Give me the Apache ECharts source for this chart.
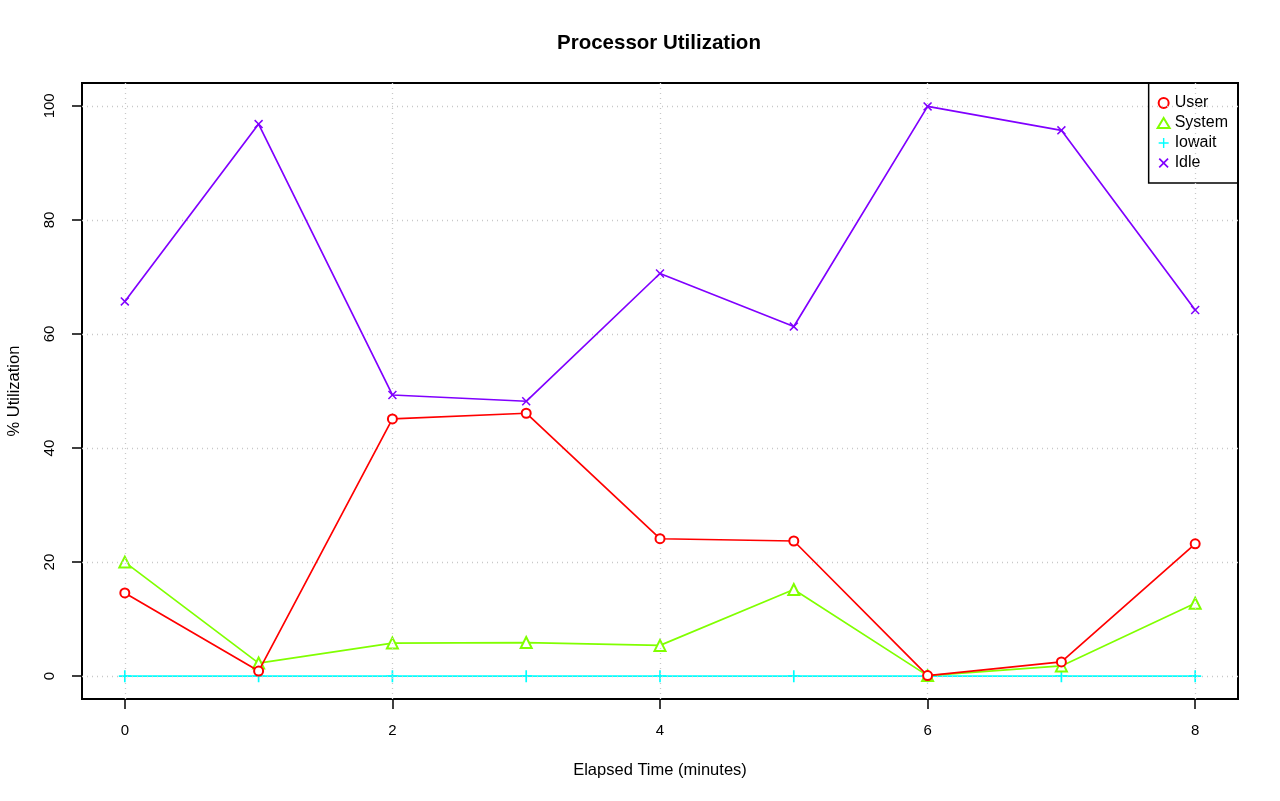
<!DOCTYPE html>
<html>
<head>
<meta charset="utf-8">
<script src="https://cdn.jsdelivr.net/npm/echarts@6/dist/echarts.min.js"></script>
<style>html,body{margin:0;padding:0;background:#fff}#c{width:1280px;height:801px}</style>
</head>
<body>
<div id="c"></div>
<script>
const minutes = [0, 1, 2, 3, 4, 5, 6, 7, 8];
const userPct = [14.6, 0.9, 45.1, 46.1, 24.1, 23.7, 0.1, 2.5, 23.2];
const systemPct = [20.0, 2.3, 5.8, 5.9, 5.4, 15.2, 0.1, 1.8, 12.8];
const iowaitPct = [0, 0, 0, 0, 0, 0, 0, 0, 0];
const idlePct = [65.7, 96.8, 49.3, 48.2, 70.6, 61.3, 99.9, 95.7, 64.2];
const xTicks = [0, 2, 4, 6, 8];
const yTicks = [0, 20, 40, 60, 80, 100];

const FONT = 'Liberation Sans, Arial, Helvetica, sans-serif';
const PLUS = 'path://M4.3,0 L5.7,0 L5.7,4.3 L10,4.3 L10,5.7 L5.7,5.7 L5.7,10 L4.3,10 L4.3,5.7 L0,5.7 L0,4.3 L4.3,4.3 Z';
const CROSS = 'path://M0,1.2 L1.2,0 L5,3.8 L8.8,0 L10,1.2 L6.2,5 L10,8.8 L8.8,10 L5,6.2 L1.2,10 L0,8.8 L3.8,5 Z';

function pairs(vals){ return minutes.map((m,i)=>[m, vals[i]]); }

const gridStyle = {color:'#c8c8c8', type:[1,4], width:1.3};
const chart = echarts.init(document.getElementById('c'), null, {renderer:'canvas'});
chart.setOption({
  animation:false,
  backgroundColor:'#fff',
  textStyle:{fontFamily:FONT},
  title:{text:'Processor Utilization', left:552, top:28,
    textStyle:{fontFamily:FONT, fontSize:20.5, fontWeight:'bold', color:'#000'}},
  grid:{left:82, right:42, top:83, bottom:102, show:true, borderColor:'#000', borderWidth:2,
    backgroundColor:'transparent', containLabel:false, outerBoundsMode:'none'},
  legend:{
    orient:'vertical', right:42, top:83, padding:[12,10,12,8], itemGap:4,
    borderColor:'#000', borderWidth:1.5, itemWidth:12, itemHeight:10, itemTextGap:11,
    textStyle:{fontFamily:FONT, fontSize:16, color:'#000'},
    data:[
      {name:'User', icon:'emptyCircle', itemStyle:{color:'#ff0000', borderColor:'#ff0000', borderWidth:2}},
      {name:'System', icon:'emptyTriangle', itemStyle:{color:'#80ff00', borderColor:'#80ff00', borderWidth:2}},
      {name:'Iowait', icon:PLUS, itemStyle:{color:'#00ffff', borderWidth:0}},
      {name:'Idle', icon:CROSS, itemStyle:{color:'#8000ff', borderWidth:0}}
    ]
  },
  xAxis:{type:'value', min:-0.32, max:8.32,
    name:'Elapsed Time (minutes)', nameLocation:'middle', nameGap:63,
    nameTextStyle:{fontFamily:FONT, fontSize:16.5, color:'#000'},
    axisLine:{show:false, onZero:false},
    axisTick:{show:true, customValues:xTicks, length:10, inside:false, lineStyle:{color:'#000', width:1.5}},
    axisLabel:{customValues:xTicks, margin:24, fontFamily:FONT, fontSize:15, color:'#000'},
    splitLine:{show:false}},
  yAxis:{type:'value', min:-4, max:104,
    name:'% Utilization', nameLocation:'middle', nameGap:59, nameRotate:90,
    nameTextStyle:{fontFamily:FONT, fontSize:16.5, color:'#000'},
    axisLine:{show:false, onZero:false},
    axisTick:{show:true, customValues:yTicks, length:10, lineStyle:{color:'#000', width:1.5}},
    axisLabel:{customValues:yTicks, rotate:90, margin:25, fontFamily:FONT, fontSize:15, color:'#000'},
    splitLine:{show:false}},
  series:[
    {name:'Grid', type:'line', data:[], silent:true,
      markLine:{silent:true, symbol:'none', label:{show:false}, lineStyle:gridStyle,
        data: xTicks.map(v=>({xAxis:v})).concat(yTicks.map(v=>({yAxis:v})))}},
    {name:'Iowait', type:'line', data:pairs(iowaitPct), symbol:PLUS, symbolSize:12,
      lineStyle:{color:'#00ffff', width:1.7}, itemStyle:{color:'#00ffff'}, z:3},
    {name:'System', type:'line', data:pairs(systemPct), symbol:'emptyTriangle', symbolSize:11,
      lineStyle:{color:'#80ff00', width:1.7}, itemStyle:{color:'#80ff00', borderColor:'#80ff00', borderWidth:2}, z:4},
    {name:'User', type:'line', data:pairs(userPct), symbol:'emptyCircle', symbolSize:9,
      lineStyle:{color:'#ff0000', width:1.7}, itemStyle:{color:'#ff0000', borderColor:'#ff0000', borderWidth:2}, z:5},
    {name:'Idle', type:'line', data:pairs(idlePct), symbol:CROSS, symbolSize:9,
      lineStyle:{color:'#8000ff', width:1.7}, itemStyle:{color:'#8000ff'}, z:6}
  ]
});
</script>
</body>
</html>
